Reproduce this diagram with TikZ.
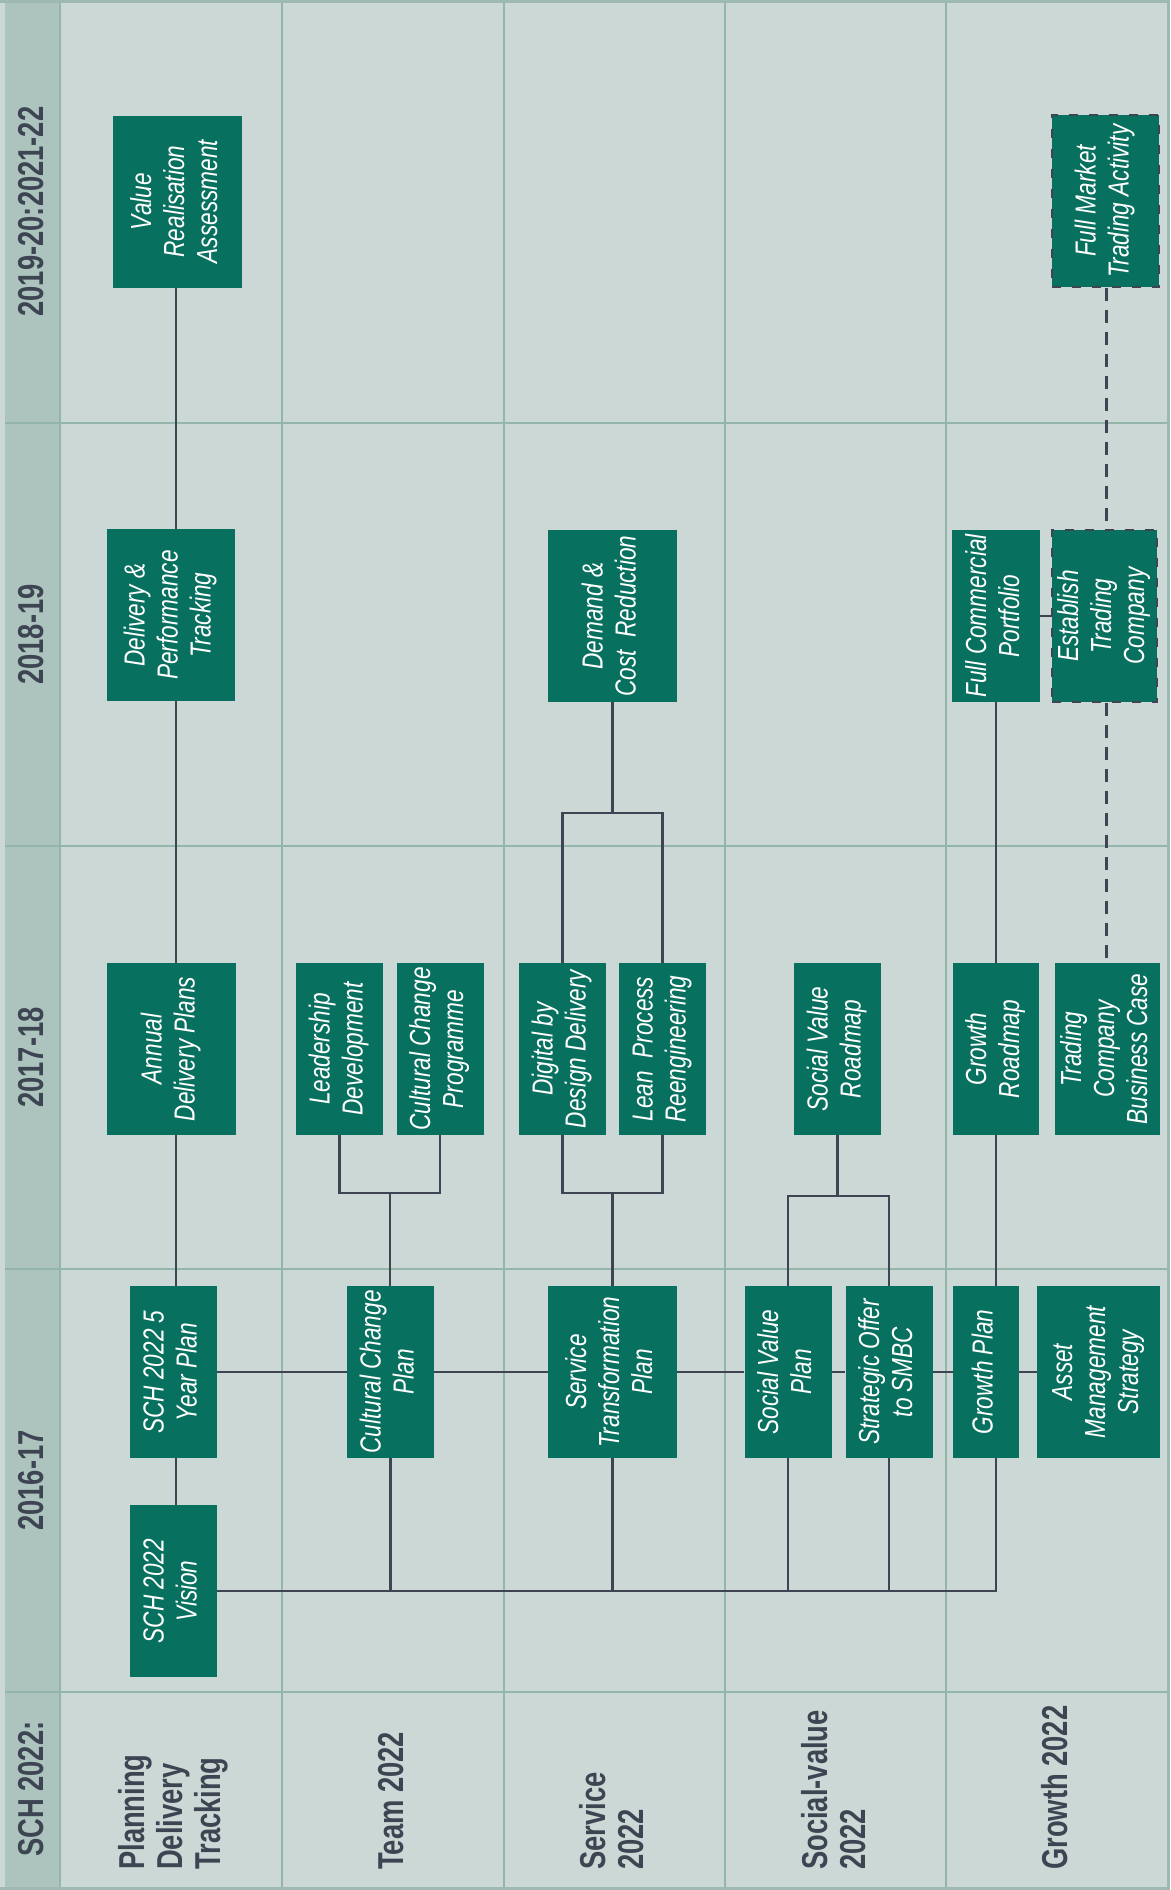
\documentclass[tikz,border=0pt]{standalone}
\usepackage{fontspec}
\usepackage{graphicx}
\setmainfont{Liberation Sans}
\newfontfamily\boxfont{Liberation Sans}[FakeStretch=0.78]
\newfontfamily\headfont{Liberation Sans}[FakeStretch=0.76]
\definecolor{bgc}{HTML}{CBD8D5}
\definecolor{stripc}{HTML}{ADC3BD}
\definecolor{gridc}{HTML}{93B5AA}
\definecolor{framec}{HTML}{9DB9B1}
\definecolor{boxc}{HTML}{07705E}
\definecolor{linec}{HTML}{3E4451}
\definecolor{headc}{HTML}{3D4452}
\newcommand{\rtxt}[1]{\rotatebox{90}{\begin{tabular}{@{}c@{}}#1\end{tabular}}}
\newcommand{\rtxl}[1]{\rotatebox{90}{\begin{tabular}{@{}l@{}}#1\end{tabular}}}
\begin{document}
\begin{tikzpicture}[x=1pt,y=1pt,
  box/.style={fill=boxc, text=white, inner sep=0pt, minimum height=172pt,
    font=\boxfont\itshape\fontsize{29}{33}\selectfont},
  dbox/.style={box, draw=linec, line width=2.8pt, dash pattern=on 9pt off 11pt},
  conn/.style={draw=linec, line width=2.7pt},
  dconn/.style={conn, dash pattern=on 13pt off 9pt},
  gridl/.style={draw=gridc, line width=1.6pt},
  lanehead/.style={text=headc, inner sep=0pt, anchor=south,
    font=\headfont\bfseries\fontsize{36}{38}\selectfont},
  yearhead/.style={text=headc, inner sep=0pt,
    font=\headfont\bfseries\fontsize{36}{38}\selectfont}]
\useasboundingbox (0,0) rectangle (1170,-1890);
% background
\fill[bgc] (0,0) rectangle (1170,-1890);
\fill[stripc] (5,0) rectangle (60,-1890);
% grid
\foreach \yy in {423,846,1269,1692} \draw[gridl] (5,-\yy) -- (1168,-\yy);
\foreach \xx in {60,282,504,725,946} \draw[gridl] (\xx,0) -- (\xx,-1890);
\draw[draw=framec, line width=3pt] (0,-1.5) -- (1168.5,-1.5) -- (1168.5,-1888.5) -- (0,-1888.5);
% year headers
\node[yearhead] (y1) at (31,-211.5) {\rotatebox{90}{2019-20:2021-22}};
\node[yearhead] (y2) at (31,-634.5) {\rotatebox{90}{2018-19}};
\node[yearhead] (y3) at (31,-1057.5) {\rotatebox{90}{2017-18}};
\node[yearhead] (y4) at (31,-1480.5) {\rotatebox{90}{2016-17}};
\node[yearhead, anchor=south] (y5) at (31,-1857) {\rotatebox{90}{SCH 2022:}};
% lane headers
\node[lanehead] (h1) at (175,-1870) {\rtxl{Planning\\Delivery\\Tracking}};
\node[lanehead] (h2) at (396,-1870) {\rtxl{Team 2022}};
\node[lanehead] (h3) at (617,-1870) {\rtxl{Service\\2022}};
\node[lanehead] (h4) at (838.5,-1870) {\rtxl{Social-value\\2022}};
\node[lanehead] (h5) at (1060,-1870) {\rtxl{Growth 2022}};
% coordinates
\coordinate (L1) at (176,0);
\coordinate (L5) at (996,0);
\coordinate (L6) at (1106.5,0);
\coordinate (b2) at (390,-1193);
\coordinate (t3) at (612.5,-813);
\coordinate (b3) at (612.5,-1193);
\coordinate (b4) at (838,-1196);
% lane 1
\node[box, minimum width=129pt] (vr) at (177.5,-201.5) {\rtxt{Value\\Realisation\\Assessment}};
\node[box, minimum width=128pt] (dpt) at (171,-615) {\rtxt{Delivery \&\\Performance\\Tracking}};
\node[box, minimum width=129pt] (adp) at (171.5,-1049) {\rtxt{Annual\\Delivery Plans}};
\node[box, minimum width=87pt] (fyp) at (173.5,-1372) {\rtxt{SCH 2022 5\\Year Plan}};
\node[box, minimum width=87pt] (vis) at (173.5,-1591) {\rtxt{SCH 2022\\Vision}};
% lane 2
\node[box, minimum width=87pt] (ld) at (339.5,-1049) {\rtxt{Leadership\\Development}};
\node[box, minimum width=87pt] (ccprog) at (440,-1049) {\rtxt{Cultural Change\\Programme}};
\node[box, minimum width=87pt] (ccp) at (390.5,-1372) {\rtxt{Cultural Change\\Plan}};
% lane 3
\node[box, minimum width=129pt] (dcr) at (612.5,-616) {\rtxt{Demand \&\\Cost\ \ Reduction}};
\node[box, minimum width=87pt] (dbd) at (562.5,-1049) {\rtxt{Digital by\\Design Delivery}};
\node[box, minimum width=87pt] (lpr) at (662.5,-1049) {\rtxt{Lean\ \ Process\\Reengineering}};
\node[box, minimum width=129pt] (stp) at (612.5,-1372) {\rtxt{Service\\Transformation\\Plan}};
% lane 4
\node[box, minimum width=87pt] (svr) at (837.5,-1049) {\rtxt{Social Value\\Roadmap}};
\node[box, minimum width=87pt] (svp) at (788,-1372) {\rtxt{Social Value\\Plan}};
\node[box, minimum width=87pt] (sos) at (889,-1372) {\rtxt{Strategic Offer\\to SMBC}};
% lane 5
\node[box, minimum width=88pt] (fcp) at (996,-616) {\rtxt{Full Commercial\\Portfolio}};
\node[dbox, minimum width=105pt] (etc) at (1104.5,-616) {\rtxt{Establish\\Trading\\Company}};
\node[dbox, minimum width=107pt] (fmt) at (1105.5,-201) {\rtxt{Full Market\\Trading Activity}};
\node[box, minimum width=86pt] (gr) at (996,-1049) {\rtxt{Growth\\Roadmap}};
\node[box, minimum width=105pt] (tcbc) at (1107.5,-1049) {\rtxt{Trading\\Company\\Business Case}};
\node[box, minimum width=66pt] (gp) at (986,-1372) {\rtxt{Growth Plan}};
\node[box, minimum width=123pt] (ams) at (1098.5,-1372) {\rtxt{Asset\\Management\\Strategy}};
% connectors lane 1
\draw[conn] (vr.south -| L1) -- (dpt.north -| L1);
\draw[conn] (dpt.south -| L1) -- (adp.north -| L1);
\draw[conn] (adp.south -| L1) -- (fyp.north -| L1);
\draw[conn] (fyp.south -| L1) -- (vis.north -| L1);
% plan row
\draw[conn] (fyp.east) -- (ccp.west);
\draw[conn] (ccp.east) -- (stp.west);
\draw[conn] (stp.east) -- (svp.west);
\draw[conn] (svp.east) -- (sos.west);
\draw[conn] (sos.east) -- (gp.west);
\draw[conn] (gp.east) -- (ams.west);
% vision row
\draw[conn] (vis.east) -| (gp.south -| L5);
\draw[conn] (ccp.south) -- (ccp.south |- vis.east);
\draw[conn] (stp.south) -- (stp.south |- vis.east);
\draw[conn] (svp.south) -- (svp.south |- vis.east);
\draw[conn] (sos.south) -- (sos.south |- vis.east);
% lane 2
\draw[conn] (ld.south) |- (ccprog.south |- b2) -- (ccprog.south);
\draw[conn] (b2) -- (ccp.north -| b2);
% lane 3
\draw[conn] (dcr.south) -- (t3);
\draw[conn] (dbd.north) |- (lpr.north |- t3) -- (lpr.north);
\draw[conn] (dbd.south) |- (lpr.south |- b3) -- (lpr.south);
\draw[conn] (b3) -- (stp.north);
% lane 4
\draw[conn] (svr.south) -- (svr.south |- b4);
\draw[conn] (svp.north) |- (sos.north |- b4) -- (sos.north);
% lane 5
\draw[conn] (fcp.south -| L5) -- (gr.north -| L5);
\draw[conn] (gr.south -| L5) -- (gp.north -| L5);
\draw[dconn] (fmt.south -| L6) -- (etc.north -| L6);
\draw[dconn] (etc.south -| L6) -- (tcbc.north -| L6);
\draw[dconn] (fcp.east) -- (etc.west);
\end{tikzpicture}
\end{document}
